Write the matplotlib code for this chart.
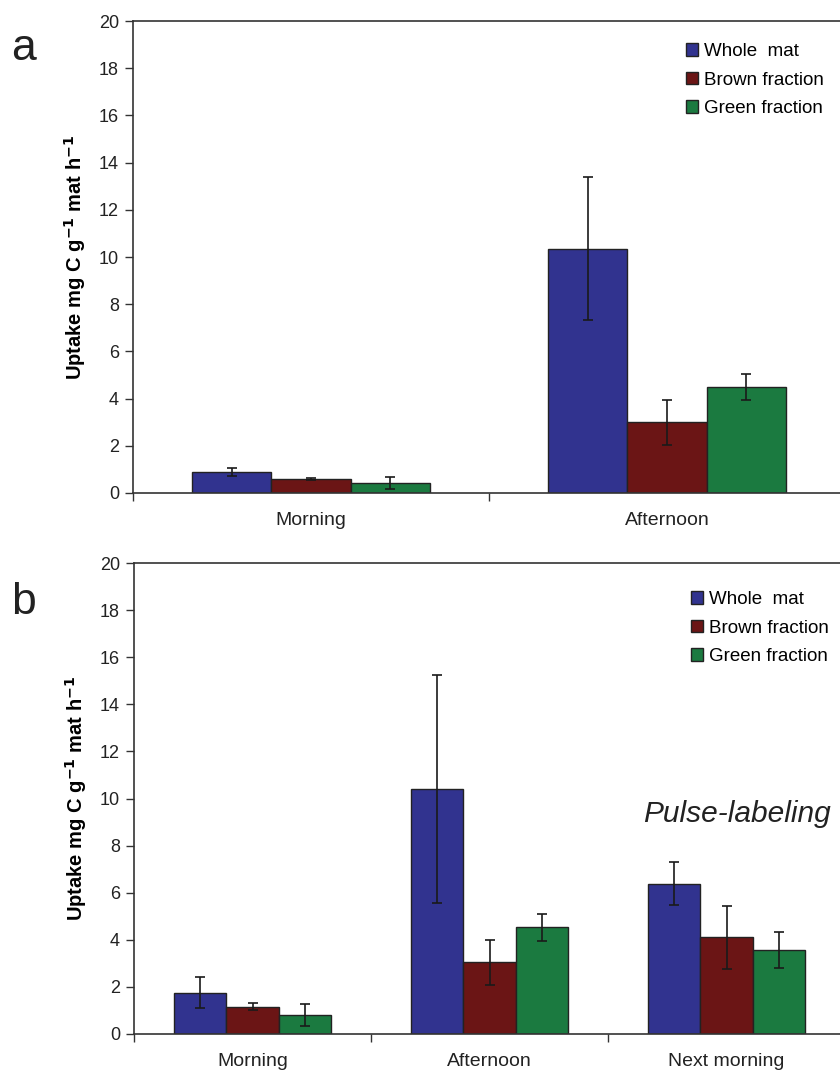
import matplotlib
matplotlib.use("Agg")
import matplotlib.pyplot as plt
import numpy as np

plt.rcParams['font.family'] = ['Liberation Sans', 'DejaVu Sans']

series = ["Whole  mat", "Brown fraction", "Green fraction"]
colors = ["#31338F", "#6B1515", "#1B7A40"]

cats_a = ["Morning", "Afternoon"]
whole_a = [0.90, 10.35]
brown_a = [0.59, 3.00]
green_a = [0.41, 4.50]
whole_a_err = [0.16, 3.02]
brown_a_err = [0.05, 0.95]
green_a_err = [0.25, 0.56]

cats_b = ["Morning", "Afternoon", "Next morning"]
whole_b = [1.75, 10.40, 6.38]
brown_b = [1.16, 3.04, 4.10]
green_b = [0.81, 4.53, 3.57]
whole_b_err = [0.65, 4.85, 0.92]
brown_b_err = [0.15, 0.95, 1.32]
green_b_err = [0.46, 0.57, 0.76]

yticks = [0, 2, 4, 6, 8, 10, 12, 14, 16, 18, 20]

W, H = 840, 1071
fig = plt.figure(figsize=(W / 100, H / 100), dpi=100)

def draw(ax, cats, vals, errs, legend_anchor):
    n = len(cats)
    x = np.arange(n)
    w = 0.222
    handles = []
    for i, (v, e) in enumerate(zip(vals, errs)):
        b = ax.bar(x + (i - 1) * w, v, width=w, color=colors[i], edgecolor="#222222",
                   linewidth=1.0, label=series[i], zorder=2)
        ax.errorbar(x + (i - 1) * w, v, yerr=e, fmt="none", ecolor="#1a1a1a",
                    elinewidth=1.2, capsize=3.5, capthick=1.2, zorder=3)
        handles.append(b)
    ax.set_xlim(-0.5, n - 0.5)
    ax.set_ylim(0, 20)
    ax.set_yticks(yticks)
    ax.set_yticklabels([str(t) for t in yticks], fontsize=13, color="#222222")
    ax.set_xticks(np.arange(n + 1) - 0.5)
    ax.set_xticklabels([])
    ax.set_xticks(x, minor=True)
    ax.set_xticklabels(cats, minor=True, fontsize=14, color="#222222")
    ax.tick_params(axis="x", which="minor", length=0, pad=14)
    ax.tick_params(axis="x", which="major", length=6, width=1.0, direction="out", color="#333333")
    ax.tick_params(axis="y", length=6, width=1.0, direction="out", color="#333333", pad=4)
    for s in ax.spines.values():
        s.set_linewidth(1.2)
        s.set_color("#333333")
    ax.set_ylabel(r"Uptake mg C g$^{\mathbf{-1}}$ mat h$^{\mathbf{-1}}$", fontsize=14.5,
                  fontweight="bold", labelpad=8)
    ax.legend(handles=handles, loc="upper left", bbox_to_anchor=legend_anchor,
              bbox_transform=fig.transFigure, frameon=False, fontsize=13.5,
              handlelength=0.65, handleheight=0.65, handletextpad=0.3,
              labelspacing=0.62, borderaxespad=0, borderpad=0)

ax_a = fig.add_axes([133 / W, 1 - 493 / H, 712 / W, 472 / H])
draw(ax_a, cats_a, [whole_a, brown_a, green_a], [whole_a_err, brown_a_err, green_a_err],
     (686 / W, 1 - 43 / H))

ax_b = fig.add_axes([134 / W, 1 - 1034 / H, 711 / W, 471 / H])
draw(ax_b, cats_b, [whole_b, brown_b, green_b], [whole_b_err, brown_b_err, green_b_err],
     (691 / W, 1 - 591 / H))

ax_b.text(831 / W, 1 - 814 / H, "Pulse-labeling", transform=fig.transFigure,
          fontsize=21.5, style="italic", ha="right", va="center", color="#222222")

fig.text(11 / W, 1 - 48 / H, "a", fontsize=32, va="center", ha="left", color="#222222")
fig.text(11 / W, 1 - 603 / H, "b", fontsize=32, va="center", ha="left", color="#222222")

fig.savefig("out.png", dpi=100)
